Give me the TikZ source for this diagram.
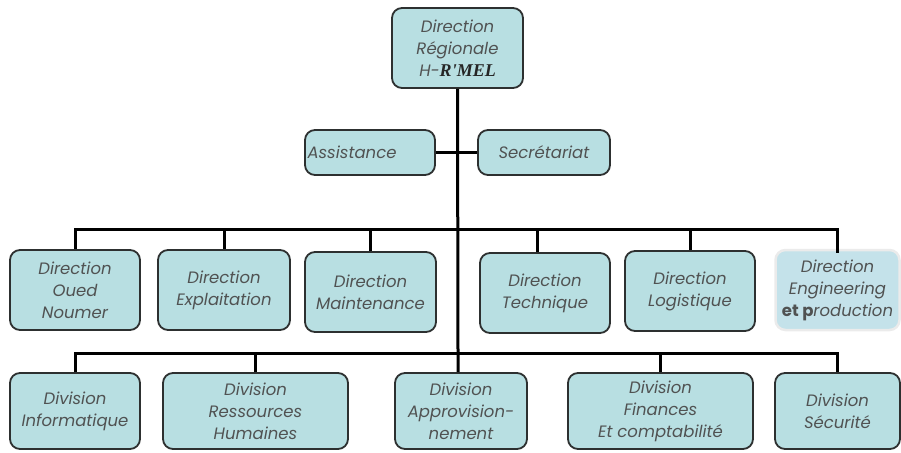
\documentclass[tikz,border=0pt]{standalone}
\usepackage{fontspec}
\setmainfont{Poppins}
\newfontfamily\timesfont{Liberation Serif}
\definecolor{boxfill}{RGB}{184,223,226}
\definecolor{boxfilllight}{RGB}{196,226,234}
\definecolor{boxline}{RGB}{45,48,48}
\definecolor{txt}{RGB}{80,82,82}
\tikzset{
  x=1pt, y=-1pt,
  unit/.style={draw=boxline, line width=1.8pt, fill=boxfill, rounded corners=10pt,
    align=center, inner sep=1pt, font=\fontsize{16.5}{22}\selectfont\itshape, text=txt},
  softunit/.style={unit, draw=black!8, line width=2.5pt, fill=boxfilllight},
  link/.style={line width=3pt, black}
}
\begin{document}
\begin{tikzpicture}
\useasboundingbox (0,0) rectangle (901,452);

% head of the organisation
\node[unit, minimum width=131, minimum height=80] (top) at (457.5,48)
  {Direction\\Régionale\\H-{\color{black!85}\fontsize{18}{22}\selectfont\timesfont\bfseries\itshape R'MEL}};

% staff functions
\node[unit, minimum width=130, minimum height=45] (assist) at (370,152.5)
  {\hspace*{-18pt}Assistance\hspace*{18pt}};
\node[unit, minimum width=132, minimum height=45] (secr) at (544,152.5) {Secrétariat};

% directions
\node[unit, minimum width=130, minimum height=80] (oued)  at (75,290)   {Direction\\Oued\\Noumer};
\node[unit, minimum width=132, minimum height=80] (expl)  at (224,290)  {Direction\\Explaitation};
\node[unit, minimum width=131, minimum height=80] (maint) at (370.5,292) {Direction\\Maintenance};
\node[unit, minimum width=130, minimum height=80] (tech)  at (545,293)  {Direction\\Technique};
\node[unit, minimum width=130, minimum height=80] (logi)  at (690,291)  {Direction\\Logistique};
\node[softunit, minimum width=124, minimum height=80] (eng) at (837.5,290)
  {Direction\\Engineering\\{\upshape\bfseries et p}roduction};

% divisions
\node[unit, minimum width=130, minimum height=76] (info)  at (75,411)    {Division\\Informatique};
\node[unit, minimum width=185, minimum height=76] (rh)    at (255.5,411) {Division\\Ressources\\Humaines};
\node[unit, minimum width=132, minimum height=76] (appro) at (461,411)   {Division\\Approvision-\\nement};
\node[unit, minimum width=185, minimum height=76] (fin)   at (660.5,411) {Division\\Finances\\Et comptabilité};
\node[unit, minimum width=125, minimum height=76] (secu)  at (837.5,411) {Division\\Sécurité};

% bus coordinates
\coordinate (busA) at (458,229);
\coordinate (busB) at (458,353);

% connectors
\draw[link] (top.south) -- (busB) -- (appro.north -| busB);
\draw[link] (assist.east) -- (secr.west);
\draw[link] (oued.north) |- (busA);
\draw[link] (busA) -| ([yshift=-4]eng.north);
\draw[link] (expl.north) -- (expl.north |- busA);
\draw[link] (maint.north) -- (maint.north |- busA);
\draw[link] ([xshift=-8]tech.north) -- ([xshift=-8]tech.north |- busA);
\draw[link] (logi.north) -- (logi.north |- busA);
\draw[link] (info.north) |- (busB);
\draw[link] (busB) -| (secu.north);
\draw[link] (rh.north) -- (rh.north |- busB);
\draw[link] (fin.north) -- (fin.north |- busB);
\end{tikzpicture}
\end{document}
